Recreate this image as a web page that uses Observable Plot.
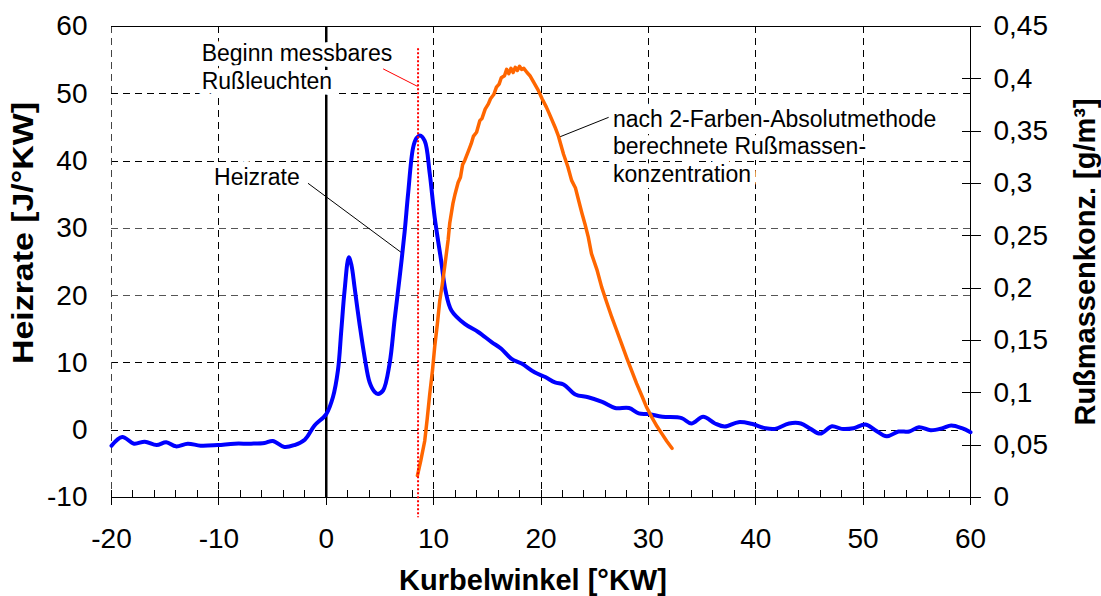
<!DOCTYPE html>
<html><head><meta charset="utf-8">
<script src="https://cdn.jsdelivr.net/npm/d3@7"></script>
<script src="https://cdn.jsdelivr.net/npm/@observablehq/plot@0.6"></script>
<style>body{margin:0;background:#fff;} svg{display:block;}</style>
</head><body><div id="chart"></div>
<script>
// Heizrate (left axis) [J/°KW]
const heizX = [-20,-19.0,-17.9,-16.9,-15.8,-14.9,-14.0,-12.9,-11.7,-10.1,-8.55,-7.0,-5.75,-4.98,-3.9,-2.95,-2.0,-1.09,0,0.62,1.09,1.4,1.71,2.1,2.35,2.64,3.1,3.58,4.04,4.5,4.82,5.29,5.9,6.37,6.84,7.3,7.62,8.09,8.4,8.71,9.17,9.64,10.1,10.7,11.1,11.66,12.9,14.15,15.4,16.3,17.26,18.2,19.4,20.4,21.3,22.1,23.2,24.4,25.7,26.9,28.2,29.1,30.0,31.3,33.1,34.0,35.1,36.2,37.1,38.4,39.6,40.9,41.8,43.1,44.2,45.1,46.0,47.1,48.0,49.1,50.2,51.1,52.2,53.3,54.3,55.2,56.3,57.4,58.2,59.2,60];
const heizY = [-2.3,-1.0,-2.0,-1.7,-2.2,-1.8,-2.4,-2.0,-2.3,-2.2,-2.0,-2.0,-1.9,-1.6,-2.5,-2.2,-1.4,0.7,2.4,4.9,8.9,14.8,20.8,25.7,24.5,21.2,15.8,10.8,7.1,5.7,5.4,5.9,9.9,16.5,22.8,29.5,35.1,42.0,43.4,43.8,43.0,38.1,31.6,25.2,20.8,17.8,15.8,14.6,13.1,12.1,10.6,9.9,8.6,7.9,7.1,6.8,5.3,4.9,4.2,3.3,3.3,2.5,2.4,2.0,1.8,1.0,2.0,1.0,0.55,1.2,0.95,0.3,0.2,1.0,1.0,0.2,-0.5,0.6,0.2,0.3,0.85,0.05,-0.9,-0.2,-0.2,0.45,0,0.3,0.7,0.3,-0.3];

// Rußmassenkonzentration (right axis) [g/m³]
const russX = [8.49,8.8,9.17,9.4,9.64,9.9,10.1,10.35,10.57,10.8,11.05,11.35,11.5,11.8,12.0,12.28,12.5,12.7,12.9,13.2,13.5,13.7,14.0,14.3,14.5,14.8,15.1,15.3,15.6,15.85,16.1,16.3,16.6,16.8,17.0,17.2,17.4,17.6,17.8,18.0,18.2,18.4,18.7,18.97,19.3,19.75,20.1,20.5,20.8,21.3,21.6,22.1,22.5,22.85,23.2,23.5,23.8,24.1,24.4,24.7,25.2,25.65,26.1,26.6,27.0,27.5,28.0,28.45,28.9,29.4,29.8,30.3,30.8,31.25,31.7,32.2];
const russY = [0.021,0.035,0.054,0.075,0.099,0.122,0.144,0.166,0.188,0.203,0.222,0.246,0.262,0.281,0.290,0.301,0.306,0.318,0.322,0.330,0.338,0.345,0.349,0.360,0.362,0.371,0.376,0.381,0.385,0.392,0.395,0.401,0.403,0.409,0.405,0.410,0.406,0.411,0.408,0.412,0.409,0.410,0.406,0.403,0.397,0.389,0.381,0.373,0.366,0.354,0.346,0.328,0.316,0.303,0.296,0.284,0.272,0.261,0.249,0.233,0.218,0.201,0.187,0.172,0.161,0.147,0.133,0.121,0.109,0.097,0.087,0.077,0.068,0.061,0.054,0.047];

// Ticks
const xTicks = [-20,-10,0,10,20,30,40,50,60];
const xMinorTicks = [-18,-16,-14,-12,-8,-6,-4,-2,2,4,6,8,12,14,16,18,22,24,26,28,32,34,36,38,42,44,46,48,52,54,56,58];
const yTicks = [-10,0,10,20,30,40,50,60];
const rTicks = [0,0.05,0.1,0.15,0.2,0.25,0.3,0.35,0.4,0.45];
const rTickLabels = ["0","0,05","0,1","0,15","0,2","0,25","0,3","0,35","0,4","0,45"];
const gridX = [-10,10,20,30,40,50];
const gridYDark = [0,10,40,50];
const gridYGray = [20,30];
const sootStart = [8.55];

// Annotations
const annoText = ["Beginn messbares\nRußleuchten", "Heizrate", "nach 2-Farben-Absolutmethode\nberechnete Rußmassen-\nkonzentration"];
const annoX = [-11.6, -10.45, 26.7];
const annoY = [54.1, 37.7, 42.3];
const leaderX1 = [5.3, -1.7, 26.3];
const leaderY1 = [53.7, 36.7, 46.5];
const leaderX2 = [8.5, 7.0, 21.6];
const leaderY2 = [51.1, 26.4, 43.5];
const leaderColor = ["#ff0000", "#000000", "#000000"];

const rToY = d3.scaleLinear([0, 0.45], [-10, 60]);
const heiz = heizX.map((x, i) => ({x, y: heizY[i]}));
const russ = russX.map((x, i) => ({x, y: rToY(russY[i])}));
const rPos = rTicks.map(r => rToY(r));
const rLabel = new Map(rPos.map((p, i) => [p, rTickLabels[i]]));
const annos = annoText.map((t, i) => ({t, x: annoX[i], y: annoY[i]}));
const leaders = leaderX1.map((x1, i) => ({x1, y1: leaderY1[i], x2: leaderX2[i], y2: leaderY2[i], c: leaderColor[i]}));

const font = "'Liberation Sans', Arial, Helvetica, sans-serif";
const dash = "7,5";
const crisp = "crispEdges";

const chart = Plot.plot({
  width: 1101, height: 596,
  marginLeft: 111, marginRight: 131, marginTop: 26, marginBottom: 99,
  style: {fontFamily: font, background: "#fff", color: "#000"},
  x: {domain: [-20, 60], label: null},
  y: {domain: [-10, 60], label: null},
  marks: [
    // grid
    Plot.ruleX(gridX, {stroke: "#000", strokeWidth: 1, strokeDasharray: dash, shapeRendering: crisp}),
    Plot.ruleY(gridYDark, {stroke: "#000", strokeWidth: 1, strokeDasharray: dash, shapeRendering: crisp}),
    Plot.ruleY(gridYGray, {stroke: "#555", strokeWidth: 1, strokeDasharray: dash, shapeRendering: crisp}),
    Plot.ruleX([-20], {stroke: "#444", strokeWidth: 1, strokeDasharray: dash, shapeRendering: crisp}),
    Plot.ruleY([60], {stroke: "#000", strokeWidth: 1, shapeRendering: crisp}),
    Plot.ruleX([60], {stroke: "#000", strokeWidth: 1, shapeRendering: crisp}),
    Plot.ruleY([-10], {stroke: "#000", strokeWidth: 1, shapeRendering: crisp}),
    Plot.ruleX([0], {stroke: "#000", strokeWidth: 2.5}),
    // axes
    Plot.axisX(xMinorTicks, {anchor: "bottom", tickSize: -7, tickFormat: () => "", label: null, shapeRendering: crisp}),
    Plot.axisX(xTicks, {anchor: "bottom", tickSize: -7, tickFormat: () => "", label: null, shapeRendering: crisp}),
    Plot.axisX(xTicks, {anchor: "bottom", tickSize: 8, tickPadding: 23, fontSize: 28, label: null, tickFormat: d => String(d), shapeRendering: crisp}),
    Plot.axisY(yTicks, {anchor: "left", tickSize: 0, tickPadding: 24, fontSize: 28, label: null, tickFormat: d => String(d)}),
    Plot.axisY(rPos, {anchor: "right", tickSize: 10, tickPadding: 13, fontSize: 28, label: null, tickFormat: d => rLabel.get(d), shapeRendering: crisp}),
    Plot.axisY(rPos, {anchor: "right", tickSize: -9, tickFormat: () => "", label: null, shapeRendering: crisp}),
    // annotations
    Plot.text(annos, {x: "x", y: "y", text: "t", textAnchor: "start", lineAnchor: "middle", lineHeight: 1.2, fontSize: 23, fill: "#000", stroke: "#fff", strokeWidth: 12}),
    Plot.link(leaders, {x1: "x1", y1: "y1", x2: "x2", y2: "y2", stroke: "c", strokeWidth: 1}),
    // data
    Plot.line(heiz, {x: "x", y: "y", stroke: "#0000ff", strokeWidth: 4, curve: "catmull-rom"}),
    Plot.line(russ, {x: "x", y: "y", stroke: "#ff6600", strokeWidth: 3.5, strokeLinejoin: "round"}),
    Plot.ruleX(sootStart, {y1: 56.7, y2: -13, stroke: "#ff0000", strokeWidth: 2, strokeDasharray: "2,2"}),
    // axis titles
    Plot.text(["Heizrate [J/°KW]"], {className: "ytitle", frameAnchor: "left", textAnchor: "middle", lineAnchor: "middle", dx: -88, dy: -29, rotate: -90, fontSize: 29, fontWeight: "bold", fill: "#000"}),
    Plot.text(["Kurbelwinkel [°KW]"], {frameAnchor: "bottom", textAnchor: "middle", lineAnchor: "middle", dx: -8, dy: 83, fontSize: 29, fontWeight: "bold", fill: "#000"}),
    Plot.text(["Rußmassenkonz. [g/m³]"], {frameAnchor: "right", textAnchor: "middle", lineAnchor: "middle", dx: 115, dy: 0, rotate: -90, fontSize: 29, fontWeight: "bold", fill: "#000"})
  ]
});
// the left title in the reference is drawn a little elongated along its direction
d3.select(chart).selectAll(".ytitle text").attr("textLength", 262).attr("lengthAdjust", "spacingAndGlyphs");
document.getElementById("chart").append(chart);
</script>
</body></html>
